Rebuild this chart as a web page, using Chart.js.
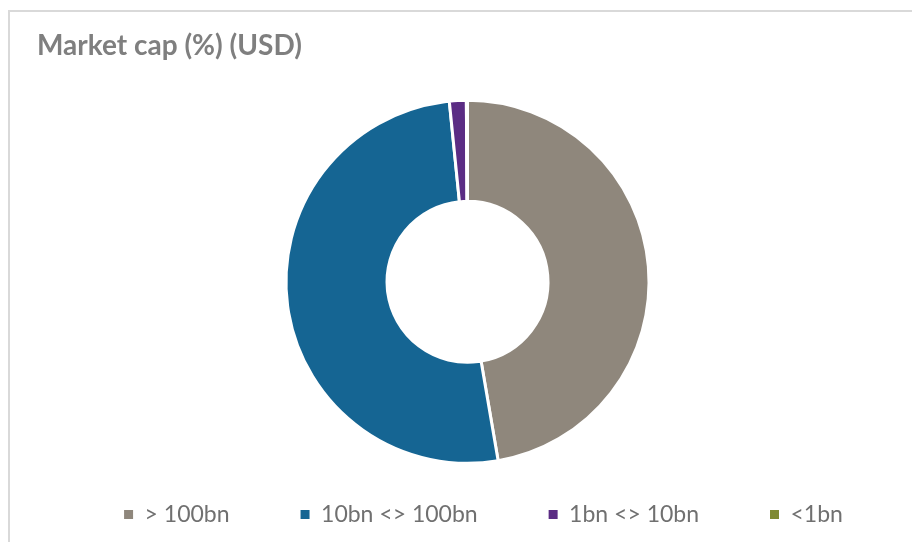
<!DOCTYPE html>
<html>
<head>
<meta charset="utf-8">
<script src="https://cdn.jsdelivr.net/npm/chart.js@4/dist/chart.umd.min.js"></script>
<style>
  html, body { margin: 0; padding: 0; background: #fff; overflow: hidden; }
  #frame { position: absolute; left: 8px; top: 10px; width: 2000px; height: 2000px; border: 2px solid #d9d9d9; }
  #wrap { position: absolute; left: 0; top: 0; width: 912px; height: 542px; }
</style>
</head>
<body>
<div id="frame"></div>
<div id="wrap"><canvas id="capChart"></canvas></div>
<script>
// 市值分布数据
const categories = ['> 100bn', '10bn <> 100bn', '1bn <> 10bn', '<1bn'];
const shares = [47.3, 51.1, 1.5, 0.1];
const sliceColors = ['#8f877c', '#156593', '#5b2c84', '#7f8a32'];

// 图例整体右移一点，与原图对齐
const legendShift = {
  id: 'legendShift',
  afterLayout(chart) {
    chart.legend.left += 16;
    chart.legend.right += 16;
  }
};

function initChart() {
  const ctx = document.getElementById('capChart').getContext('2d');
  new Chart(ctx, {
    type: 'doughnut',
    data: {
      labels: categories,
      datasets: [{
        data: shares,
        backgroundColor: sliceColors,
        borderColor: '#ffffff',
        borderWidth: 3,
        radius: 181.5,
        cutout: '44.35%'
      }]
    },
    options: {
      responsive: true,
      maintainAspectRatio: false,
      animation: false,
      layout: { padding: { left: 37, right: 14, top: 0, bottom: 6 } },
      plugins: {
        title: {
          display: true,
          text: 'Market cap (%) (USD)',
          align: 'start',
          color: '#7f7f7f',
          font: { family: 'Lato', size: 28, weight: 'bold' },
          padding: { top: 29, bottom: 69 }
        },
        legend: {
          position: 'bottom',
          labels: {
            boxWidth: 9,
            boxHeight: 9,
            padding: 71,
            color: '#707070',
            font: { family: 'Lato', size: 23 },
            generateLabels: (chart) =>
              Chart.overrides.doughnut.plugins.legend.labels.generateLabels(chart)
                .map(item => ({ ...item, lineWidth: 0 }))
          }
        },
        tooltip: { enabled: false }
      }
    },
    plugins: [legendShift]
  });
}

document.addEventListener('DOMContentLoaded', initChart);
</script>
</body>
</html>
